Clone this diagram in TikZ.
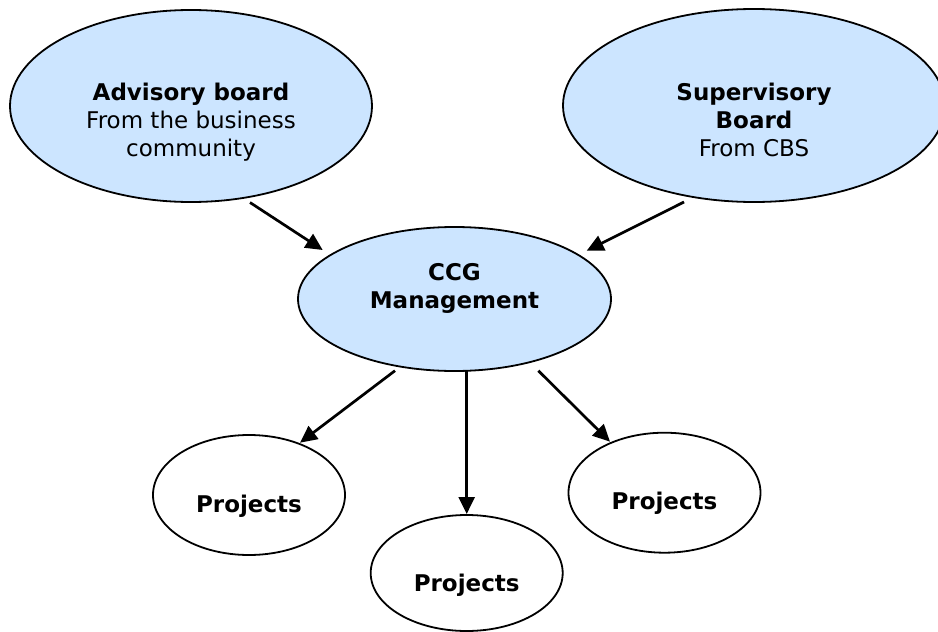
\documentclass[tikz,border=0pt]{standalone}
\usepackage{fontspec}
\setmainfont{DejaVu Sans}
\usetikzlibrary{shapes.geometric,arrows.meta}
\definecolor{boardblue}{RGB}{204,229,255}
\tikzset{
    board/.style={ellipse, draw, line width=1.8pt, fill=boardblue, inner sep=0pt, align=center, font=\fontsize{23}{28}\selectfont, text depth=0pt},
    project/.style={ellipse, draw, line width=1.8pt, fill=white, inner sep=0pt, minimum width=192pt, minimum height=120pt, font=\fontsize{23}{28}\selectfont\bfseries, text height=34pt, text depth=0pt},
    arrow/.style={-{Triangle[length=17pt,width=16pt]}, line width=2.7pt}
}
\begin{document}
\begin{tikzpicture}[x=1pt, y=-1pt]
    \useasboundingbox (0,0) rectangle (938,632);
    % Boards on top
    \node[board, minimum width=362pt, minimum height=192pt, text height=100pt] (advisory) at (191,106) {\textbf{Advisory board}\\From the business\\community};
    \node[board, minimum width=382pt, minimum height=193pt, text height=101pt] (supervisory) at (754,105.5) {\textbf{Supervisory}\\\textbf{Board}\\From CBS};
    % Management in the middle
    \node[board, minimum width=313pt, minimum height=144pt, text height=18pt] (ccg) at (454.5,299) {\textbf{CCG}\\\textbf{Management}};
    % Projects below
    \node[project] (projleft) at (249,495) {Projects};
    \node[project, minimum height=116pt, text height=37pt] (projmid) at (466.7,573) {Projects};
    \node[project] (projright) at (664.5,492.7) {Projects};
    % Arrow ends
    \coordinate (advout) at (250,202.5);
    \coordinate (supout) at (684,202);
    \coordinate (ccgin1) at (322.7,250);
    \coordinate (ccgin2) at (586.7,250.7);
    \coordinate (ccgout1) at (395,370.7);
    \coordinate (ccgout2) at (466.7,370.7);
    \coordinate (ccgout3) at (538.3,370.7);
    \coordinate (projin1) at (300,442.7);
    \coordinate (projin2) at (466.7,514);
    \coordinate (projin3) at (610,441.7);
    \draw[arrow] (advout) -- (ccgin1);
    \draw[arrow] (supout) -- (ccgin2);
    \draw[arrow] (ccgout1) -- (projin1);
    \draw[arrow] (ccgout2) -- (projin2);
    \draw[arrow] (ccgout3) -- (projin3);
\end{tikzpicture}
\end{document}
